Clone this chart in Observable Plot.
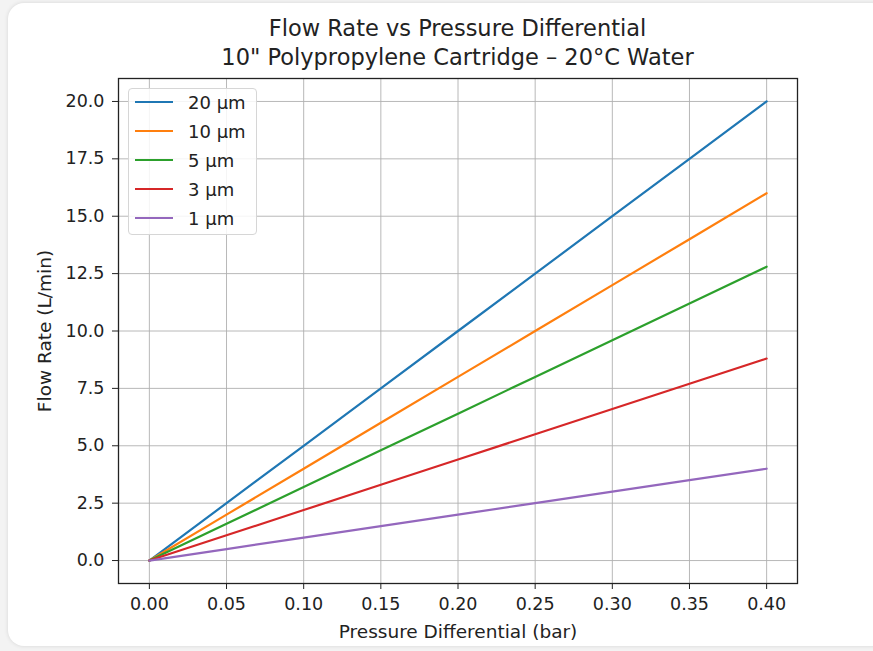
<!DOCTYPE html>
<html>
<head>
<meta charset="utf-8">
<script src="https://cdn.jsdelivr.net/npm/d3@7"></script>
<script src="https://cdn.jsdelivr.net/npm/@observablehq/plot@0.6"></script>
<style>
  html, body { margin: 0; padding: 0; background: #f3f3f3; width: 873px; height: 651px; overflow: hidden; }
  #card { position: absolute; left: 8px; top: 3px; width: 880px; height: 643px; background: #fff; border-radius: 16px; box-shadow: 0 0 4px rgba(0,0,0,0.12); }
  #wrap { position: absolute; left: 0; top: 0; width: 873px; height: 651px; font-family: "DejaVu Sans", sans-serif; color: #222; }
  #title { position: absolute; left: 118px; width: 679px; top: 14px; text-align: center; font-size: 22.5px; line-height: 29px; color: #222; }
  #chart { position: absolute; left: 0; top: 70px; }
  #chart g[aria-label="x-axis label"] text, #chart g[aria-label="y-axis label"] text { font-size: 18.5px; }
  #legend { position: absolute; left: 128px; top: 88px; width: 129px; height: 147px; border: 1px solid #d6d6d6; border-radius: 4px; background: rgba(255,255,255,0.85); font-size: 18px; box-sizing: border-box; }
  .item { position: absolute; left: 6px; height: 22px; display: flex; align-items: center; white-space: nowrap; }
  .item svg { margin-right: 15px; }
</style>
</head>
<body>
<div id="card"></div>
<div id="wrap">
  <div id="title">Flow Rate vs Pressure Differential<br>10" Polypropylene Cartridge – 20°C Water</div>
  <div id="chart"></div>
  <div id="legend"></div>
</div>
<script>
const pressure = [0, 0.05, 0.10, 0.15, 0.20, 0.25, 0.30, 0.35, 0.40];
const seriesNames = ["20 µm", "10 µm", "5 µm", "3 µm", "1 µm"];
const flow20 = [0, 2.5, 5.0, 7.5, 10.0, 12.5, 15.0, 17.5, 20.0];
const flow10 = [0, 2.0, 4.0, 6.0, 8.0, 10.0, 12.0, 14.0, 16.0];
const flow5  = [0, 1.6, 3.2, 4.8, 6.4, 8.0, 9.6, 11.2, 12.8];
const flow3  = [0, 1.1, 2.2, 3.3, 4.4, 5.5, 6.6, 7.7, 8.8];
const flow1  = [0, 0.5, 1.0, 1.5, 2.0, 2.5, 3.0, 3.5, 4.0];
const colors = ["#1f77b4", "#ff7f0e", "#2ca02c", "#d62728", "#9467bd"];
const xTicks = [0, 0.05, 0.10, 0.15, 0.20, 0.25, 0.30, 0.35, 0.40];
const yTicks = [0, 2.5, 5.0, 7.5, 10.0, 12.5, 15.0, 17.5, 20.0];

const allFlows = [flow20, flow10, flow5, flow3, flow1];
const data = [];
allFlows.forEach((arr, i) => arr.forEach((v, j) => data.push({series: seriesNames[i], p: pressure[j], q: v})));

const chart = Plot.plot({
  width: 873,
  height: 581,
  marginLeft: 118,
  marginRight: 76,
  marginTop: 8,
  marginBottom: 68,
  style: { fontFamily: "'DejaVu Sans', sans-serif", fontSize: "17.5px", color: "#222", background: "transparent" },
  x: { domain: [-0.02, 0.42], ticks: xTicks, tickFormat: d3.format(".2f"), tickSize: 6, tickPadding: 8,
       label: "Pressure Differential (bar)", labelAnchor: "center", labelArrow: "none", labelOffset: 54 },
  y: { domain: [-1, 21], ticks: yTicks, tickFormat: d3.format(".1f"), tickSize: 6, tickPadding: 8,
       label: "Flow Rate (L/min)", labelAnchor: "center", labelArrow: "none", labelOffset: 81 },
  color: { domain: seriesNames, range: colors },
  marks: [
    Plot.gridX(xTicks, { stroke: "#b0b0b0", strokeOpacity: 1, strokeWidth: 0.9 }),
    Plot.gridY(yTicks, { stroke: "#b0b0b0", strokeOpacity: 1, strokeWidth: 0.9 }),
    Plot.line(data, { x: "p", y: "q", z: "series", stroke: "series", strokeWidth: 2.2 }),
    Plot.frame({ stroke: "#222", strokeWidth: 1.3 })
  ]
});
document.getElementById("chart").appendChild(chart);

const legend = document.getElementById("legend");
seriesNames.forEach((name, i) => {
  const d = document.createElement("div");
  d.className = "item";
  d.style.top = (2 + i * 29) + "px";
  d.innerHTML = `<svg width="38" height="4"><line x1="0" y1="2" x2="38" y2="2" stroke="${colors[i]}" stroke-width="2.2"/></svg><span>${name}</span>`;
  legend.appendChild(d);
});
</script>
</body>
</html>
